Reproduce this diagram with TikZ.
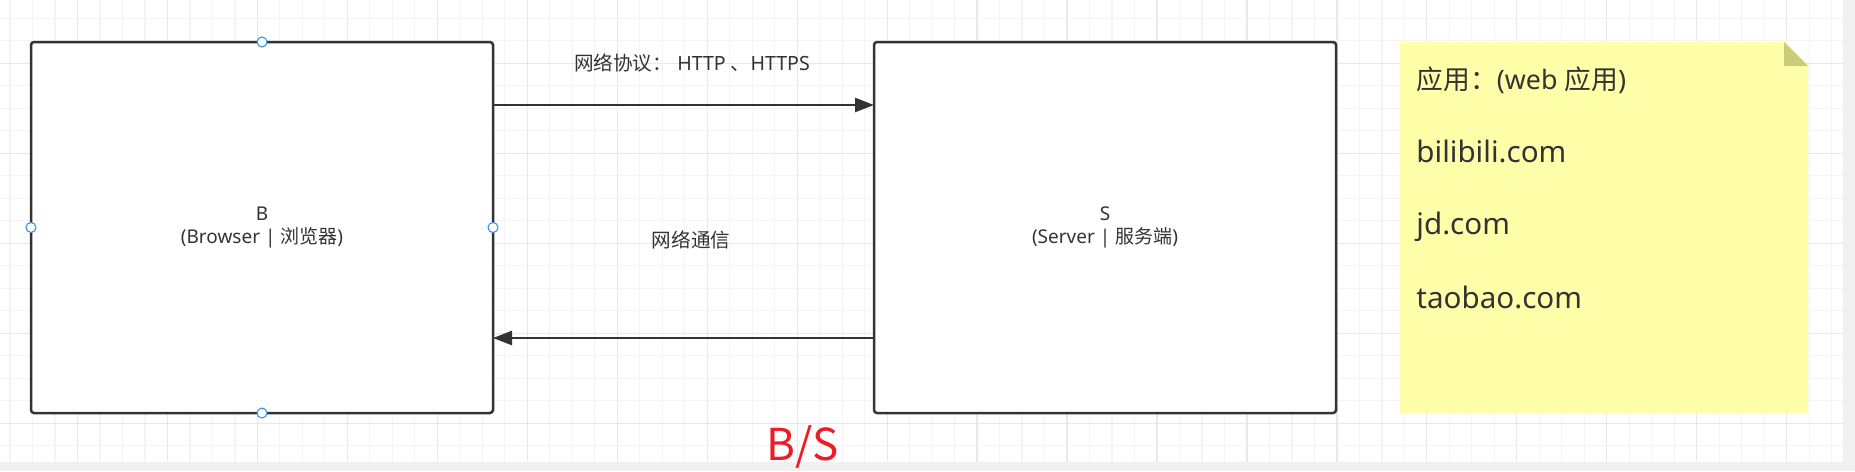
\documentclass[tikz,border=0pt]{standalone}
\usepackage{fontspec}
\setmainfont{Noto Sans}
\newfontfamily\cjk{Noto Sans CJK SC}
\usetikzlibrary{arrows.meta,calc}
\definecolor{ink}{HTML}{333333}
\definecolor{gridminor}{HTML}{F4F4F4}
\definecolor{gridmajor}{HTML}{E8E8E8}
\definecolor{barcol}{HTML}{F0F0F0}
\definecolor{notefill}{HTML}{FFFFAA}
\definecolor{notefold}{HTML}{CBCB78}
\definecolor{handle}{HTML}{2A8CF0}
\definecolor{bsred}{HTML}{EE1C25}
\tikzset{
  box/.style={draw=ink, line width=1.25pt, rounded corners=1.5pt, fill=white,
    minimum width=231pt, minimum height=185.5pt, inner sep=0pt, outer sep=0pt,
    align=center, text=ink, font=\fontsize{9.5pt}{11.5pt}\selectfont},
  arr/.style={draw=ink, line width=1.25pt, -{Triangle[length=9.5pt,width=7pt]}},
  lbl/.style={text=ink, font=\fontsize{9.8pt}{11pt}\selectfont, inner sep=0pt},
  notetext/.style={text=ink, font=\fontsize{14.8pt}{16pt}\selectfont, inner sep=0pt, anchor=base west},
  hdl/.style={circle, draw=handle, fill=white, line width=0.5pt, minimum size=5pt, inner sep=0pt},
}
\begin{document}
\begin{tikzpicture}[x=0.5pt,y=-0.5pt]
\useasboundingbox (0,0) rectangle (1855,471);
% grid
\foreach \i in {0,...,81}{
  \pgfmathtruncatemacro{\m}{mod(\i+1,4)}
  \ifnum\m=0
    \draw[gridmajor, line width=0.6pt] ({10+22.49*\i},0) -- ({10+22.49*\i},461.7);
  \else
    \draw[gridminor, line width=0.6pt] ({10+22.49*\i},0) -- ({10+22.49*\i},461.7);
  \fi
}
\foreach \j in {1,...,20}{
  \pgfmathtruncatemacro{\m}{mod(\j+1,4)}
  \ifnum\m=0
    \draw[gridmajor, line width=0.6pt] (0,{-4.2+22.49*\j}) -- (1843,{-4.2+22.49*\j});
  \else
    \draw[gridminor, line width=0.6pt] (0,{-4.2+22.49*\j}) -- (1843,{-4.2+22.49*\j});
  \fi
}
\fill[barcol] (0,461.7) rectangle (1855,471);
\fill[barcol] (1843,0) rectangle (1855,471);

% boxes
\node[box] (B) at (262,227.5) {B\\(Browser | {\cjk 浏览器})};
\node[box] (S) at (1105,227.5) {S\\(Server | {\cjk 服务端})};

% connectors
\coordinate (ty) at (0,105);
\coordinate (by) at (0,338);
\draw[arr] (B.east |- ty) -- (S.west |- ty);
\draw[arr] (S.west |- by) -- (B.east |- by);
\node[lbl] (l1) at (692,63) {{\cjk 网络协议：} HTTP {\cjk 、}HTTPS};
\node[lbl] (l2) at (691,240) {\cjk 网络通信};

% handles
\node[hdl] (h1) at (B.north) {};
\node[hdl] (h2) at (B.west) {};
\node[hdl] (h3) at (B.east) {};
\node[hdl] (h4) at (B.south) {};

% note
\fill[notefill] (1400,42) -- (1784,42) -- (1808,66) -- (1808,413) -- (1400,413) -- cycle;
\fill[notefold] (1784,42) -- (1784,66) -- (1808,66) -- cycle;
\node[notetext, font=\fontsize{13.4pt}{16pt}\selectfont] (n1) at (1416,89) {{\cjk 应用：}(web {\cjk 应用})};
\node[notetext] (n2) at (1416,162) {bilibili.com};
\node[notetext] (n3) at (1416,234) {jd.com};
\node[notetext] (n4) at (1416,308) {taobao.com};

% title
\node[text=bsred, font=\cjk\fontsize{22pt}{26pt}\selectfont, inner sep=0pt, anchor=base] (bs) at (803,460) {B/S};
\end{tikzpicture}
\end{document}
